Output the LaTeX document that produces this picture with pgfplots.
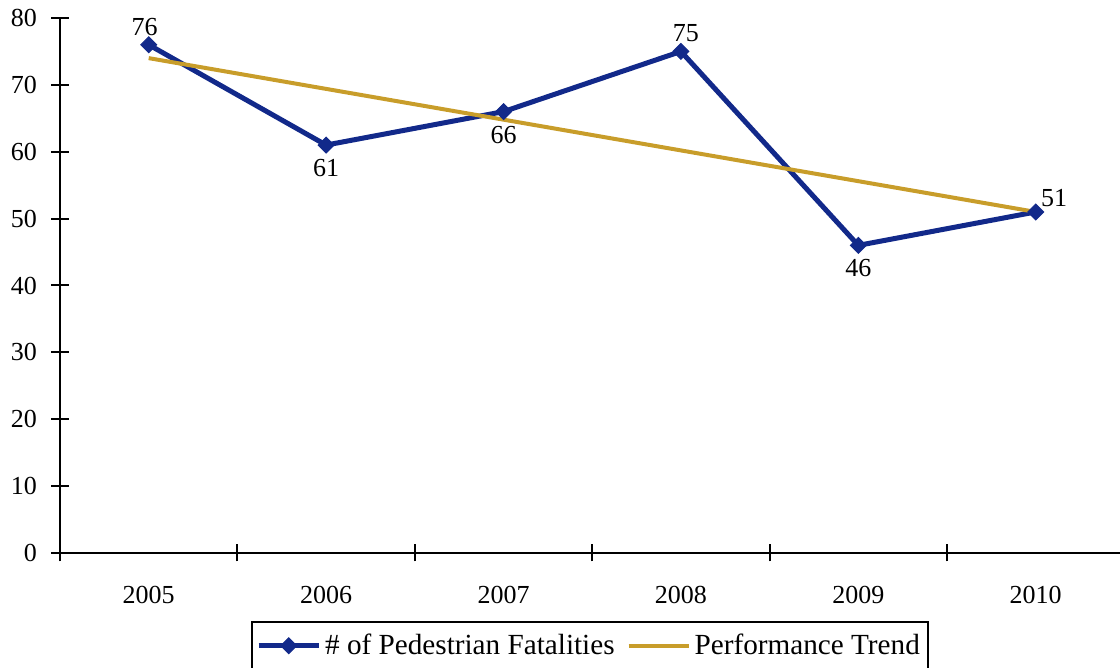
\documentclass[border=0pt]{standalone}
\usepackage{fontspec}
\setmainfont{Liberation Serif}
\usepackage{pgfplots}
\pgfplotsset{compat=1.18}
\definecolor{fatal}{HTML}{12298A}
\definecolor{trend}{HTML}{C89D2A}
\pgfplotsset{lbl/.style={forget plot, draw=none, no marks,
  point meta=explicit symbolic, nodes near coords,
  every node near coord/.append style={anchor=#1, text=black, font=\fontsize{13}{15}\selectfont, inner sep=4.5pt}}}
\begin{document}
\begin{tikzpicture}
\begin{axis}[
  scale only axis,
  width=530pt, height=267.5pt,
  xmin=-0.5, xmax=5.475,
  ymin=0, ymax=80,
  clip=false,
  axis x line=bottom, axis y line=left,
  axis line style={-, line width=1pt, black},
  every tick/.style={black, line width=1pt},
  ytick={0,10,...,80},
  xtick={0,...,5},
  xticklabels={2005,2006,2007,2008,2009,2010},
  minor xtick={-0.5,0.5,...,4.5},
  major tick length=9pt,
  tick align=center,
  every major x tick/.style={draw=none},
  every minor x tick/.style={black, line width=1pt},
  minor tick length=8.5pt,
  /pgf/number format/assume math mode=true,
  /pgf/number format/1000 sep={},
  tick label style={font=\fontsize{13}{15}\selectfont},
  xticklabel style={yshift=-8.5pt},
  yticklabel style={xshift=-3.5pt},
  legend columns=2,
  legend style={at={(0.5,-0.127)}, anchor=north, draw=black, line width=1pt,
    font=\fontsize{14.6}{17}\selectfont, inner xsep=2pt, inner ysep=4pt,
    nodes={inner xsep=2pt},
    /tikz/every even column/.append style={column sep=4pt}},
  legend image code/.code={\draw[mark repeat=2,mark phase=2,#1] plot coordinates {(0pt,0pt) (15pt,0pt) (30pt,0pt)};},
]
\addplot[color=fatal, line width=2.5pt, mark=square*, mark size=2.8pt,
  mark options={rotate=45, solid, line width=0.5pt}] coordinates {
  (0,76) (1,61) (2,66) (3,75) (4,46) (5,51)};
\addlegendentry{\# of Pedestrian Fatalities}
\addplot[color=trend, line width=2pt, no marks] coordinates {(0,74) (5,51)};
\addlegendentry{Performance Trend}
\addplot[lbl=south, every node near coord/.append style={xshift=-2pt}] coordinates {(0,76) [76]};
\addplot[lbl=south, every node near coord/.append style={xshift=2.5pt}] coordinates {(3,75) [75]};
\addplot[lbl=north, every node near coord/.append style={yshift=-2.5pt}] coordinates {(1,61) [61] (2,66) [66] (4,46) [46]};
\addplot[lbl=south west, every node near coord/.append style={xshift=-2pt, yshift=-2pt}] coordinates {(5,51) [51]};
\end{axis}
\pgfresetboundingbox
\path[use as bounding box] (-30pt,-57.5pt) rectangle (530pt,276.5pt);
\end{tikzpicture}
\end{document}
